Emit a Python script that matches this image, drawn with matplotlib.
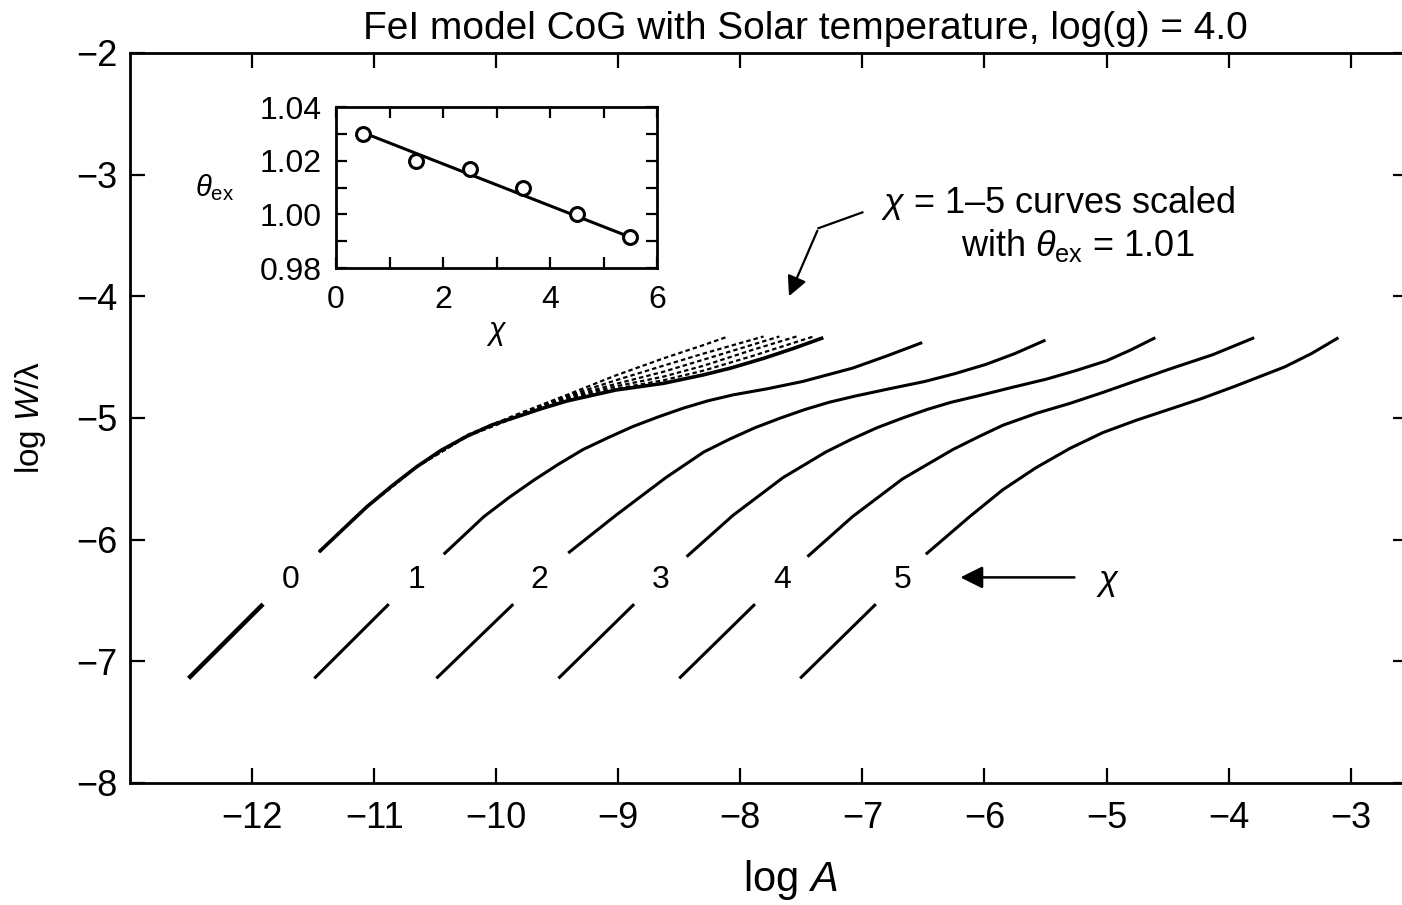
import matplotlib.pyplot as plt
from matplotlib.ticker import FixedLocator, FormatStrFormatter

plt.rcParams['font.family'] = ['Liberation Sans', 'DejaVu Sans']
plt.rcParams['mathtext.fontset'] = 'custom'
plt.rcParams['mathtext.rm'] = 'Liberation Sans'
plt.rcParams['mathtext.it'] = 'Liberation Sans:italic'

title = "FeI model CoG with Solar temperature, log(g) = 4.0"

# chi labels of the curves
chi_labels = ["0", "1", "2", "3", "4", "5"]

# weak-line (linear) segments, one per chi
low_x0 = [-12.52, -11.49, -10.49, -9.49, -8.50, -7.51]
low_x1 = [-11.91, -10.88, -9.86, -8.87, -7.88, -6.89]
low_y0 = -7.14
low_y1 = -6.53

# upper parts of the curves of growth
cog_x = [
    [-11.45, -11.25, -11.06, -10.85, -10.65, -10.45, -10.24, -10.03, -9.83, -9.62, -9.42,
     -9.02, -8.63, -8.30, -8.08, -7.81, -7.57, -7.32],
    [-10.43, -10.10, -9.89, -9.69, -9.49, -9.29, -9.08, -8.88, -8.67, -8.47, -8.27, -8.06,
     -7.78, -7.49, -7.08, -6.80, -6.51],
    [-9.41, -9.02, -8.61, -8.30, -8.09, -7.88, -7.67, -7.47, -7.27, -7.06, -6.78, -6.49,
     -6.24, -5.99, -5.75, -5.50],
    [-8.44, -8.06, -7.65, -7.30, -7.09, -6.88, -6.67, -6.47, -6.27, -6.06, -5.78, -5.49,
     -5.25, -5.00, -4.80, -4.60],
    [-7.45, -7.08, -6.67, -6.26, -6.05, -5.85, -5.57, -5.30, -5.03, -4.49, -4.13, -3.79],
    [-6.48, -6.12, -5.85, -5.58, -5.30, -5.03, -4.76, -4.49, -4.22, -3.95, -3.54, -3.32, -3.10],
]
cog_y = [
    [-6.10, -5.91, -5.73, -5.555, -5.40, -5.265, -5.15, -5.055, -4.99, -4.92, -4.86,
     -4.77, -4.715, -4.645, -4.59, -4.51, -4.43, -4.34],
    [-6.12, -5.81, -5.65, -5.51, -5.38, -5.26, -5.16, -5.07, -4.99, -4.92, -4.86, -4.81,
     -4.76, -4.70, -4.59, -4.49, -4.38],
    [-6.11, -5.80, -5.49, -5.28, -5.175, -5.08, -5.00, -4.93, -4.87, -4.82, -4.76, -4.70,
     -4.635, -4.56, -4.47, -4.36],
    [-6.14, -5.80, -5.49, -5.28, -5.175, -5.08, -5.00, -4.93, -4.87, -4.82, -4.75, -4.68,
     -4.61, -4.53, -4.44, -4.34],
    [-6.14, -5.81, -5.50, -5.26, -5.155, -5.06, -4.96, -4.88, -4.79, -4.60, -4.48, -4.34],
    [-6.12, -5.81, -5.59, -5.41, -5.25, -5.12, -5.02, -4.93, -4.84, -4.74, -4.58, -4.47, -4.34],
]

# chi = 1-5 curves scaled with theta_ex = 1.01 (dashed, on top of chi = 0)
scaled_x = [
    [-11.45, -11.06, -10.65, -10.24, -9.83, -9.42, -9.02, -8.63, -8.30, -7.90, -7.40],
    [-11.45, -11.06, -10.65, -10.24, -9.83, -9.42, -9.02, -8.63, -8.30, -7.90, -7.54],
    [-11.45, -11.06, -10.65, -10.24, -9.83, -9.42, -9.02, -8.63, -8.30, -7.68],
    [-11.45, -11.06, -10.65, -10.24, -9.83, -9.42, -9.02, -8.63, -8.30, -7.81],
    [-11.45, -11.06, -10.65, -10.24, -9.83, -9.42, -9.02, -8.63, -8.30, -8.10],
]
scaled_y = [
    [-6.10, -5.73, -5.40, -5.15, -4.99, -4.85, -4.76, -4.69, -4.61, -4.49, -4.33],
    [-6.10, -5.73, -5.40, -5.15, -4.99, -4.84, -4.74, -4.66, -4.57, -4.44, -4.33],
    [-6.10, -5.73, -5.40, -5.15, -4.98, -4.83, -4.72, -4.62, -4.52, -4.33],
    [-6.10, -5.73, -5.40, -5.15, -4.98, -4.82, -4.69, -4.57, -4.47, -4.33],
    [-6.10, -5.73, -5.40, -5.14, -4.97, -4.81, -4.65, -4.51, -4.40, -4.33],
]

# inset: excitation temperature parameter vs chi
inset_chi = [0.5, 1.5, 2.5, 3.5, 4.5, 5.5]
inset_theta = [1.030, 1.020, 1.017, 1.010, 1.000, 0.9915]
fit_chi = [0.5, 5.5]
fit_theta = [1.0305, 0.9915]


def style_axis(ax, major_len, minor_len, size):
    """刻度朝内，四边都有"""
    ax.tick_params(which='both', direction='in', top=True, right=True, width=1.6, labelsize=size)
    ax.tick_params(which='major', length=major_len)
    ax.tick_params(which='minor', length=minor_len)
    for sp in ax.spines.values():
        sp.set_linewidth(2.0)


def draw_main(fig):
    ax = fig.add_axes([130 / 1402, 122 / 905, 1278 / 1402, 730 / 905])
    ax.set_xlim(-13.0, -2.53)
    ax.set_ylim(-8, -2)
    ax.set_xticks(range(-12, -2))
    ax.set_yticks(range(-8, -1))
    style_axis(ax, 11, 6, 26)
    ax.tick_params(axis='x', pad=13)
    ax.tick_params(axis='y', pad=9)

    for k in range(len(chi_labels)):
        lw = 3.2 if k == 0 else 2.2
        ax.plot([low_x0[k], low_x1[k]], [low_y0, low_y1], color='black', lw=lw, solid_capstyle='butt')
        ax.plot(cog_x[k], cog_y[k], color='black', lw=lw if k else 2.6,
                solid_joinstyle='round', solid_capstyle='butt')
        ax.text((low_x0[k] + low_x1[k]) / 2 + 0.53, -6.33, chi_labels[k], fontsize=23,
                ha='center', va='center')

    # scaled curves drawn dashed over chi = 0
    for k in range(len(scaled_x)):
        ax.plot(scaled_x[k], scaled_y[k], color='black', lw=1.6, ls=(0, (2.0, 1.4)))

    # annotation with bent arrow
    ax.plot([-7.0, -7.36], [-3.31, -3.44], color='black', lw=1.6)
    ax.annotate("", xy=(-7.61, -4.02), xytext=(-7.36, -3.44),
                arrowprops=dict(arrowstyle='-|>', color='black', lw=1.6, mutation_scale=30))
    ax.text(-5.40, -3.23, r"$\mathit{\chi}$ = 1–5 curves scaled", fontsize=26, ha='center', va='center')
    ax.text(-5.24, -3.58, r"with $\mathit{\theta}_{\rm ex}$ = 1.01", fontsize=26, ha='center', va='center')

    # chi arrow
    ax.annotate("", xy=(-6.22, -6.31), xytext=(-5.24, -6.31),
                arrowprops=dict(arrowstyle='-|>', color='black', lw=1.8, mutation_scale=34))
    ax.text(-4.99, -6.35, r"$\mathit{\chi}$", fontsize=25, ha='center', va='center')
    return ax


def draw_inset(fig):
    ax = fig.add_axes([336 / 1402, 637 / 905, 321 / 1402, 161 / 905])
    ax.set_xlim(0, 6)
    ax.set_ylim(0.98, 1.04)
    ax.set_xticks([0, 2, 4, 6])
    ax.xaxis.set_minor_locator(FixedLocator([1, 3, 5]))
    ax.set_yticks([0.98, 1.00, 1.02, 1.04])
    ax.yaxis.set_minor_locator(FixedLocator([0.99, 1.01, 1.03]))
    ax.yaxis.set_major_formatter(FormatStrFormatter('%.2f'))
    style_axis(ax, 8, 8, 23)
    ax.tick_params(axis='x', pad=12)
    ax.tick_params(axis='y', pad=10)
    ax.plot(fit_chi, fit_theta, color='black', lw=2.2)
    ax.plot(inset_chi, inset_theta, 'o', mfc='white', mec='black', ms=10, mew=2.2)
    ax.text(-0.377, 0.5, r"$\mathit{\theta}_{\rm ex}$", transform=ax.transAxes, fontsize=21,
            ha='center', va='center')
    ax.text(3.0, 0.9558, r"$\mathit{\chi}$", fontsize=22, ha='center', va='center')
    return ax


def main():
    fig = plt.figure(figsize=(14.02, 9.05), dpi=100)
    draw_main(fig)
    draw_inset(fig)
    fig.text(805 / 1402, 1 - 29 / 905, title, fontsize=28, ha='center', va='center')
    fig.text(30 / 1402, 1 - 418 / 905, r"log $\mathit{W}$/λ", fontsize=24, rotation=90,
             ha='center', va='center')
    fig.text(790 / 1402, 1 - 880 / 905, r"log $\mathit{A}$", fontsize=30, ha='center', va='center')
    fig.savefig("out.png", dpi=100)


if __name__ == '__main__':
    main()
